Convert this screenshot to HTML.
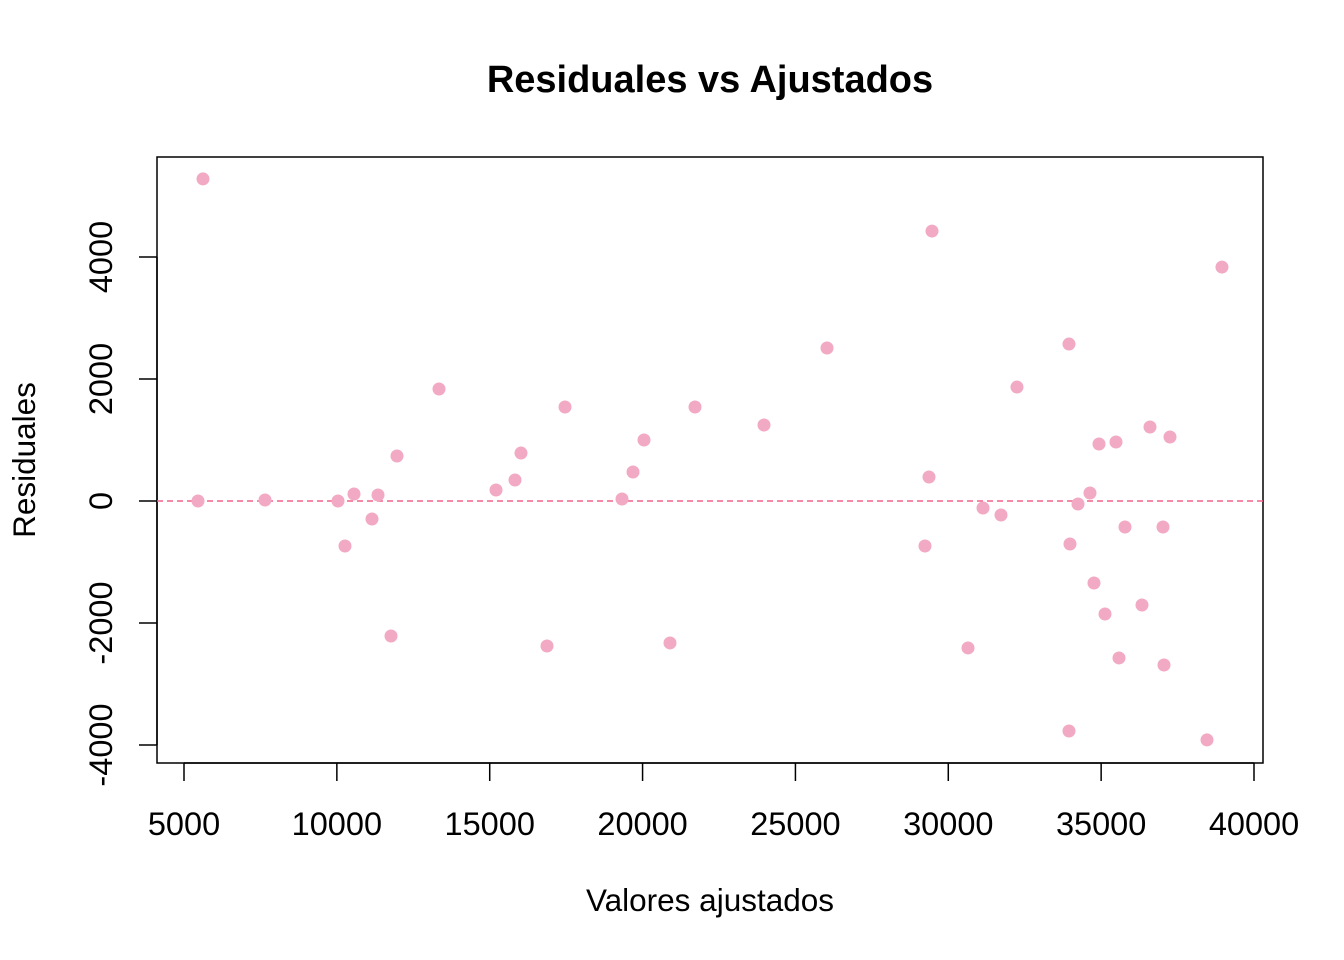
<!DOCTYPE html>
<html><head><meta charset="utf-8"><style>body{margin:0;background:#fff}svg{display:block;font-family:"Liberation Sans",Arial,sans-serif}</style></head>
<body>
<svg id="chart" width="1344" height="960" xmlns="http://www.w3.org/2000/svg">
<text x="710" y="92" text-anchor="middle" font-size="38" font-weight="bold">Residuales vs Ajustados</text>
<rect x="157" y="157" width="1106" height="606" fill="none" stroke="#000" stroke-width="1.5"/>
<text x="710" y="911" text-anchor="middle" font-size="31.5">Valores ajustados</text>
<text transform="translate(35,460) rotate(-90)" text-anchor="middle" font-size="31.5">Residuales</text>
<g id="axes"></g><g id="marks"></g>
</svg>
<script>
const fittedValues=[5621,5458,7650,10037,10266,10561,11149,11346,11771,11967,13341,15206,15827,16023,16874,17463,19327,19687,20047,20897,21715,23972,26033,29238,29369,29467,30645,31136,31724,32247,33948,33981,34243,34635,34766,34930,35126,35486,35584,35780,36336,36598,37023,37056,37252,38462,38952,33948];
const residualValues=[5280,0,16,0,-738,115,-295,98,-2213,738,1836,180,344,786,-2377,1541,33,475,1000,-2327,1541,1246,2508,-738,393,4425,-2409,-115,-230,1868,2573,-705,-49,131,-1344,934,-1852,967,-2573,-426,-1705,1213,-426,-2688,1049,-3917,3835,-3770];
const xTicks=[5000,10000,15000,20000,25000,30000,35000,40000];
const yTicks=[-4000,-2000,0,2000,4000];
const NS="http://www.w3.org/2000/svg";
const xs=v=>184+(v-5000)*(1254-184)/35000;
const ys=v=>501-v*(501-257)/4000;
function mk(t,a,p){const e=document.createElementNS(NS,t);for(const k in a)e.setAttribute(k,a[k]);p.appendChild(e);return e;}
const ax=document.getElementById('axes'),mg=document.getElementById('marks');
const xl=mk('line',{x1:xs(xTicks[0]),x2:xs(xTicks[xTicks.length-1]),y1:763,y2:763,stroke:'#000','stroke-width':1.5},ax);


xTicks.forEach(v=>{
 const l=mk('line',{x1:xs(v),x2:xs(v),y1:763,y2:781,stroke:'#000','stroke-width':1.5},ax);
 
 
 const t=mk('text',{x:xs(v),y:835,'text-anchor':'middle','font-size':32.5},ax);t.textContent=v;
 
 
});
const yl=mk('line',{x1:157,x2:157,y1:ys(yTicks[0]),y2:ys(yTicks[yTicks.length-1]),stroke:'#000','stroke-width':1.5},ax);


yTicks.forEach(v=>{
 const l=mk('line',{x1:139,x2:157,y1:ys(v),y2:ys(v),stroke:'#000','stroke-width':1.5},ax);
 
 
 const t=mk('text',{transform:`translate(112,${ys(v)}) rotate(-90)`,'text-anchor':'middle','font-size':32.5},ax);t.textContent=v;
 
 
});
const z=mk('line',{x1:157,x2:1263,y1:ys(0),y2:ys(0),stroke:'#f0648c','stroke-width':1.5,'stroke-dasharray':'6,4'},mg);


fittedValues.forEach((f,i)=>{
 const c=mk('circle',{cx:xs(f),cy:ys(residualValues[i]),r:6.5,fill:'#f2aac4'},mg);
 
 
});
</script>
</body></html>
